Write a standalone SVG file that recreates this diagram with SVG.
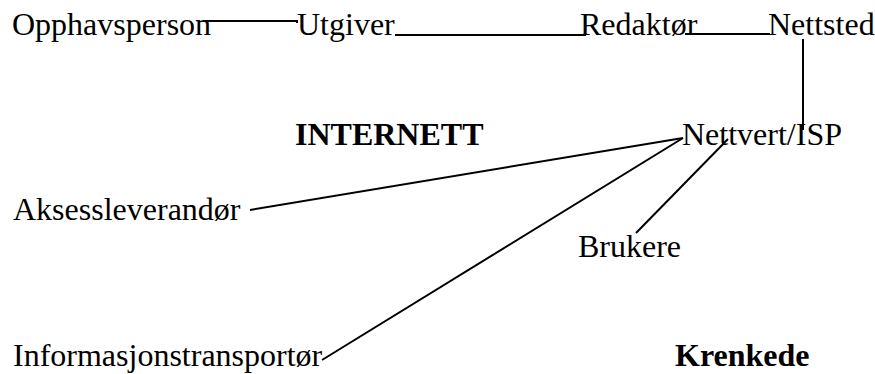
<svg xmlns="http://www.w3.org/2000/svg" width="875" height="374" viewBox="0 0 875 374">
<style>
text{font-family:"Liberation Serif","Times New Roman",serif;font-size:32px;fill:#000}
.b{font-weight:bold}
.c line,.c polyline{stroke:#000;stroke-width:2;fill:none}
</style>
<rect width="875" height="374" fill="#fff"/>
<g class="c" id="connectors">
<polyline points="203,21 297,21 297,23"/>
<line x1="395" y1="35" x2="586" y2="35"/>
<line x1="685" y1="34" x2="770" y2="34"/>
<line x1="803" y1="39" x2="803" y2="130"/>
<line x1="683" y1="138" x2="250" y2="210"/>
<line x1="683" y1="138" x2="322" y2="360"/>
<line x1="728" y1="139" x2="636" y2="233"/>
</g>
<g id="opphavsperson"><text x="12" y="35">Opphavsperson</text></g>
<g id="utgiver"><text x="297" y="35">Utgiver</text></g>
<g id="redaktor"><text x="580" y="35">Redaktør</text></g>
<g id="nettsted"><text x="768" y="35">Nettsted</text></g>
<g id="internett"><text class="b" x="295" y="145">INTERNETT</text></g>
<g id="nettvert"><text x="682" y="145">Nettvert/ISP</text></g>
<g id="aksess"><text x="13" y="220">Aksessleverandør</text></g>
<g id="brukere"><text x="578" y="257">Brukere</text></g>
<g id="info"><text x="13" y="366">Informasjonstransportør</text></g>
<g id="krenkede"><text class="b" x="675" y="366">Krenkede</text></g>
</svg>
